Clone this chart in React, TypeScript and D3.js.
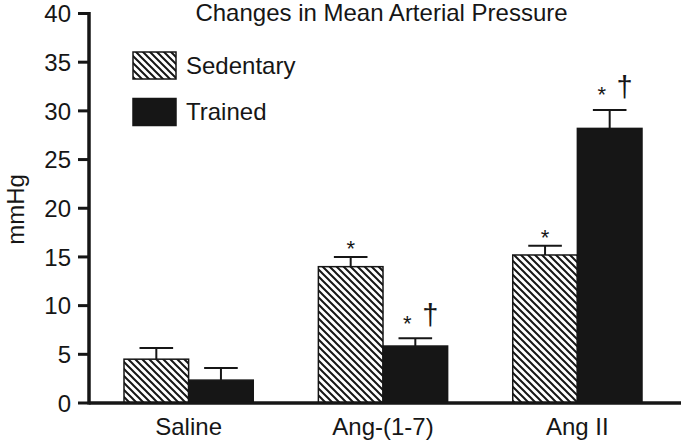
import React from "react";
import * as d3 from "d3";

const categories = ["Saline", "Ang-(1-7)", "Ang II"];
const groups = ["Sedentary", "Trained"];
const sedentary = [4.5, 14.0, 15.2];
const sedentaryErr = [1.15, 1.0, 0.95];
const trained = [2.35, 5.85, 28.2];
const trainedErr = [1.25, 0.8, 1.9];
const sedentaryMarks = [[], ["*"], ["*"]];
const trainedMarks = [[], ["*", "†"], ["*", "†"]];
const yTicks = [0, 5, 10, 15, 20, 25, 30, 35, 40];
const title = "Changes in Mean Arterial Pressure";
const yLabel = "mmHg";

const W = 685;
const H = 441;
const FONT = "'Liberation Sans', Arial, Helvetica, sans-serif";
const INK = "#161616";
const FS = 24;

export default function App() {
  const y = d3.scaleLinear().domain([0, 40]).range([403, 13.5]);
  const x0 = d3.scaleBand().domain(categories).range([124, 642]).paddingInner(0.335);
  const x1 = d3.scaleBand().domain(groups).range([0, x0.bandwidth()]);
  const bw = x1.bandwidth();
  const axisX = 89;

  const series = [
    { name: "Sedentary", values: sedentary, errs: sedentaryErr, marks: sedentaryMarks, fill: "url(#hatch)" },
    { name: "Trained", values: trained, errs: trainedErr, marks: trainedMarks, fill: INK },
  ];

  return (
    <svg width={W} height={H} style={{ position: "absolute", left: 0, top: 0, background: "#fff" }}>
      <defs>
        <pattern id="hatch" patternUnits="userSpaceOnUse" width={7} height={7}>
          <rect width={7} height={7} fill="#fff" />
          <path d="M-1,-1 L8,8 M-1,6 L1,8 M6,-1 L8,1" stroke={INK} strokeWidth={2} />
        </pattern>
      </defs>
      <rect width={W} height={H} fill="#fff" />

      {/* title */}
      <text x={381.5} y={21} textAnchor="middle" fontFamily={FONT} fontSize={FS} fill={INK}>
        {title}
      </text>

      {/* bars */}
      {series.map((s) =>
        categories.map((c, i) => {
          const bx = (x0(c) as number) + (x1(s.name) as number);
          const cx = bx + bw / 2;
          const top = y(s.values[i]);
          const errTop = y(s.values[i] + s.errs[i]);
          const capW = bw * 0.52;
          const marks = s.marks[i];
          return (
            <g key={s.name + c}>
              <line x1={cx} x2={cx} y1={top} y2={errTop} stroke={INK} strokeWidth={2} />
              <line x1={cx - capW / 2} x2={cx + capW / 2} y1={errTop} y2={errTop} stroke={INK} strokeWidth={2} />
              <rect x={bx} y={top} width={bw} height={y(0) - top} fill={s.fill} stroke={INK} strokeWidth={1.5} />
              {marks.length === 1 && (
                <text x={cx} y={errTop - 1} textAnchor="middle" fontFamily={FONT} fontSize={22} fill={INK}>
                  {marks[0]}
                </text>
              )}
              {marks.length === 2 && (
                <g fontFamily={FONT} fill={INK}>
                  <text x={cx - 8} y={errTop - 7.5} textAnchor="middle" fontSize={22}>
                    {marks[0]}
                  </text>
                  <text x={cx + 15} y={errTop - 13} textAnchor="middle" fontSize={29}>
                    {marks[1]}
                  </text>
                </g>
              )}
            </g>
          );
        })
      )}

      {/* axes */}
      <line x1={axisX} x2={axisX} y1={y(40) - 1.5} y2={y(0) + 1.5} stroke={INK} strokeWidth={3.5} />
      <line x1={axisX} x2={681} y1={y(0)} y2={y(0)} stroke={INK} strokeWidth={3.3} />
      {yTicks.map((t) => (
        <g key={t}>
          <line x1={78} x2={axisX} y1={y(t)} y2={y(t)} stroke={INK} strokeWidth={3} />
          <text x={71} y={y(t)} dy="0.36em" textAnchor="end" fontFamily={FONT} fontSize={FS} fill={INK}>
            {t}
          </text>
        </g>
      ))}
      {categories.map((c) => (
        <text
          key={c}
          x={(x0(c) as number) + x0.bandwidth() / 2}
          y={435}
          textAnchor="middle"
          fontFamily={FONT}
          fontSize={FS}
          fill={INK}
        >
          {c}
        </text>
      ))}
      <text
        transform={`translate(24,209.5) rotate(-90)`}
        textAnchor="middle"
        fontFamily={FONT}
        fontSize={FS}
        fill={INK}
      >
        {yLabel}
      </text>

      {/* legend */}
      {series.map((s, i) => (
        <g key={s.name} transform={`translate(0,${i * 46.5})`}>
          <rect x={133} y={52} width={43} height={27} fill={s.fill} stroke={INK} strokeWidth={1.5} />
          <text x={186} y={73.5} fontFamily={FONT} fontSize={FS} fill={INK}>
            {s.name}
          </text>
        </g>
      ))}
    </svg>
  );
}
